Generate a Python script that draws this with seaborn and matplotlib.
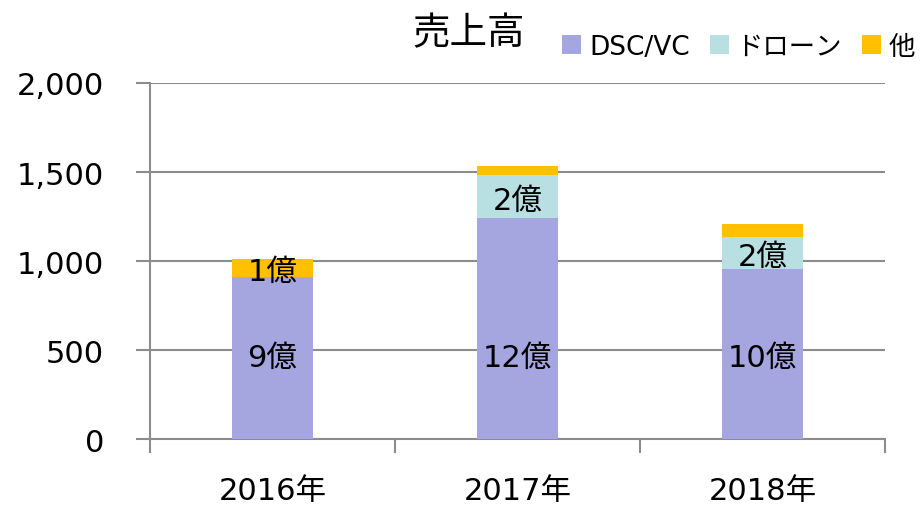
# Sales by segment (stacked bars)

import numpy as np
import pandas as pd
import matplotlib
matplotlib.use('Agg')
import matplotlib.pyplot as plt
from matplotlib.patches import Patch
from matplotlib.ticker import FuncFormatter
import seaborn as sns

# Data
years = ['2016年', '2017年', '2018年']
dsc_vc = [910, 1240, 955]
drone = [0, 243, 180]
other = [100, 50, 73]
dsc_labels = ['9億', '12億', '10億']
drone_labels = ['', '2億', '2億']
other_labels = ['1億', '', '']

series_names = ['DSC/VC', 'ドローン', '他']
colors = ['#A5A5E0', '#B8E0E2', '#FFC000']

df = pd.DataFrame({'year': years, 'dsc': dsc_vc, 'drone': drone, 'other': other})
df['dsc_drone'] = df['dsc'] + df['drone']
df['total'] = df['dsc_drone'] + df['other']

sns.set_style('white')
plt.rcParams['font.family'] = ['DejaVu Sans', 'Noto Sans CJK JP']
plt.rcParams['text.color'] = 'black'

fig = plt.figure(figsize=(9.22, 5.06), dpi=100)
ax = fig.add_axes([0.1627, 0.1304, 0.7973, 0.7036])

# stacked look: draw cumulative totals on top of each other
bw = 0.33
for col, c in zip(['total', 'dsc_drone', 'dsc'], colors[::-1]):
    sns.barplot(x='year', y=col, data=df, color=c, width=bw, saturation=1,
                linewidth=0, ax=ax, zorder=3)

# segment labels (the DSC/VC labels sit at one common height in the original)
dsc_label_y = 460
for i in range(len(years)):
    if dsc_labels[i]:
        ax.text(i, dsc_label_y, dsc_labels[i], ha='center', va='center', fontsize=22, zorder=5)
    if drone_labels[i]:
        ax.text(i, dsc_vc[i] + drone[i] / 2 - 20, drone_labels[i], ha='center', va='center', fontsize=22, zorder=5)
    if other_labels[i]:
        ax.text(i, dsc_vc[i] + drone[i] + other[i] / 2 - 20, other_labels[i], ha='center', va='center', fontsize=22, zorder=5)

ax.set_ylim(0, 2000)
ax.set_xlim(-0.5, 2.5)
ax.set_yticks([0, 500, 1000, 1500, 2000])
ax.yaxis.set_major_formatter(FuncFormatter(lambda v, p: f'{int(v):,}'))
ax.grid(axis='y', color='#8c8c8c', linewidth=1.5, zorder=0)
ax.set_axisbelow(True)
ax.set_xlabel('')
ax.set_ylabel('')

for s in ['top', 'right']:
    ax.spines[s].set_visible(False)
for s in ['left', 'bottom']:
    ax.spines[s].set_color('#8c8c8c')
    ax.spines[s].set_linewidth(1.5)

# ticks between categories on x axis
ax.set_xticks(np.arange(len(years)))
ax.set_xticklabels(years)
ax.set_xticks([-0.5, 0.5, 1.5, 2.5], minor=True)
ax.tick_params(axis='x', which='major', bottom=False, labelsize=22, pad=23, labelcolor='black')
ax.tick_params(axis='x', which='minor', bottom=True, length=10, width=1.5, color='#8c8c8c', direction='out')
ax.tick_params(axis='y', left=True, length=10, width=1.5, color='#8c8c8c', direction='out',
               labelsize=22, pad=23, labelcolor='black')

fig.text(0.508, 0.932, '売上高', ha='center', va='center', fontsize=27)

handles = [Patch(facecolor=c, edgecolor='none') for c in colors]
fig.legend(handles, series_names, loc='center left', bbox_to_anchor=(0.61, 0.905), ncol=3,
           frameon=False, fontsize=19, handlelength=0.72, handleheight=0.72,
           handletextpad=0.3, columnspacing=0.75, borderaxespad=0, borderpad=0)

fig.savefig('out.png', dpi=100)
